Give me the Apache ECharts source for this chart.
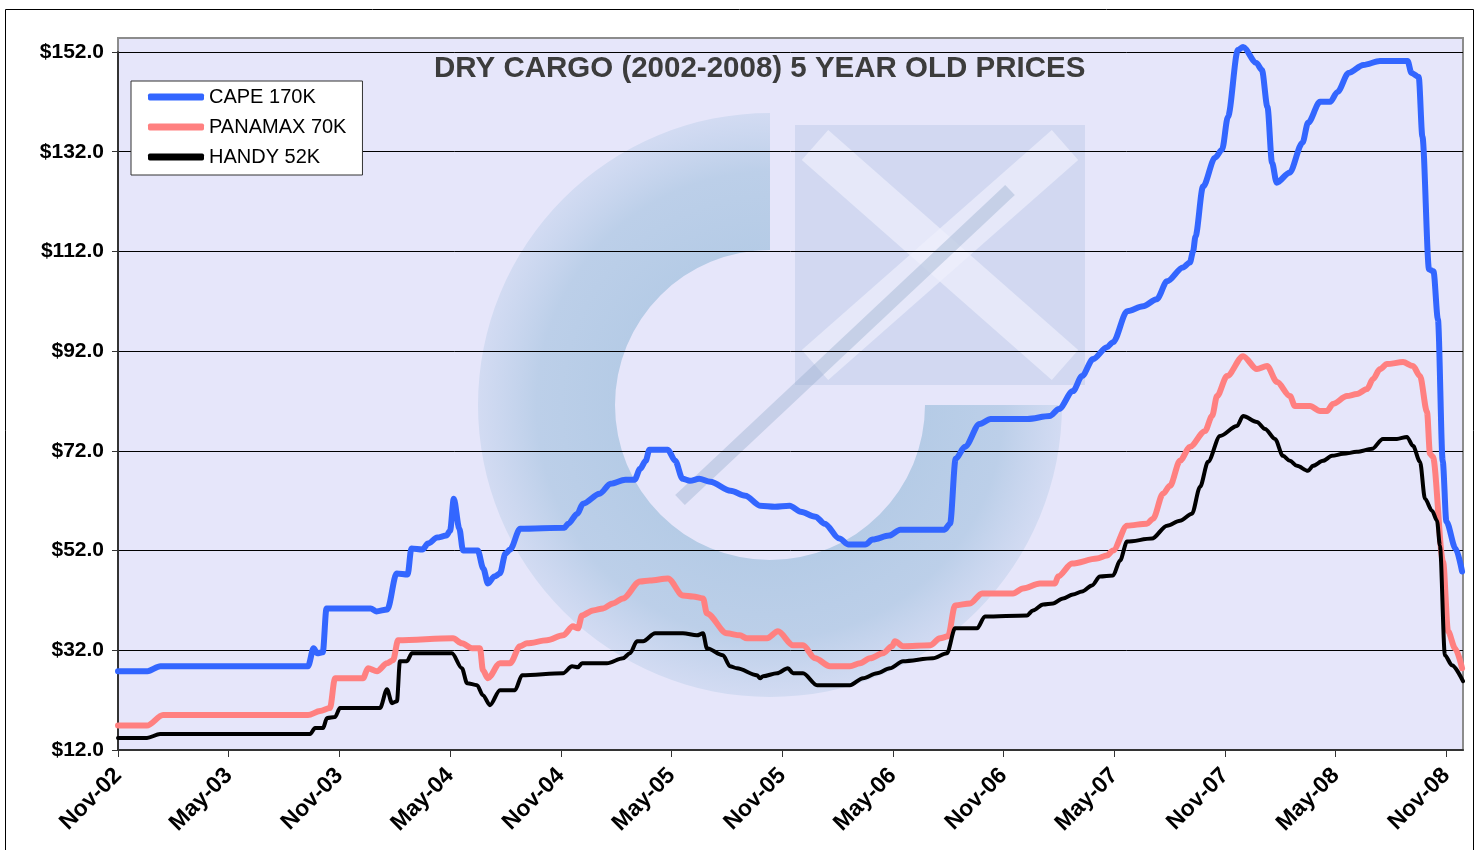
<!DOCTYPE html>
<html>
<head>
<meta charset="utf-8">
<script src="https://cdn.jsdelivr.net/npm/echarts@6/dist/echarts.min.js"></script>
<style>
html, body { margin: 0; padding: 0; background: #fff; }
#main { width: 1475px; height: 850px; }
</style>
</head>
<body>
<div id="main"></div>
<script>
// x = months after Nov-02, y = price ($m)
var xTickLabels = ['Nov-02', 'May-03', 'Nov-03', 'May-04', 'Nov-04', 'May-05', 'Nov-05',
    'May-06', 'Nov-06', 'May-07', 'Nov-07', 'May-08', 'Nov-08'];
var seriesNames = ['CAPE 170K', 'PANAMAX 70K', 'HANDY 52K'];

var cape = [[0,27.8],[1.6,27.8],[2.3,28.8],[10.3,28.8],[10.6,32.4],[10.8,31.4],[11.1,31.6],[11.3,40.4],
    [13.7,40.4],[14.0,39.8],[14.6,40.2],[15.1,47.4],[15.7,47.2],[15.9,52.4],[16.5,52.2],[16.8,53.4],
    [17.3,54.6],[17.8,55],[18.0,56],[18.2,62.4],[18.5,56.4],[18.7,52],[19.5,52],[19.8,48.4],[20.05,45.4],
    [20.4,46.8],[20.7,47.4],[21.0,51.4],[21.25,52.2],[21.8,56.4],[24.2,56.6],[24.4,57.4],[24.9,59.4],
    [25.2,61.4],[26.1,63.4],[26.7,65.4],[27.5,66.2],[28.0,66.2],[28.3,68.4],[28.6,70],[28.8,72.2],
    [29.8,72.2],[30.2,70],[30.6,66.4],[31.0,66],[31.5,66.4],[32.1,65.8],[33.2,64],[34.0,63],[34.8,61],
    [35.6,60.8],[36.4,61],[37.0,59.8],[37.8,58.8],[38.3,57.4],[39.1,54.4],[39.6,53.2],[40.5,53.2],
    [40.9,54.2],[41.8,55],[42.4,56.2],[44.8,56.2],[45.1,57.4],[45.4,70.4],[45.9,72.8],[46.7,77.4],
    [47.3,78.4],[49.3,78.4],[50.5,79],[51.0,80.4],[51.76,84],[52.25,87],[52.85,90.4],[53.6,92.8],
    [53.93,93.8],[54.7,100],[55.56,101],[56.3,102.4],[56.86,106],[57.72,108.8],[58.1,109.8],[58.27,112],
    [58.4,115],[58.81,125],[59.46,130.8],[59.84,132.4],[60.16,139],[60.7,152.4],[60.98,153],[61.7,149.8],
    [62.0,148.4],[62.3,141],[62.55,129.8],[62.8,125.8],[63.5,127.8],[64.2,133.8],[64.5,137.8],[65.15,142],
    [65.7,142],[66.1,144],[66.7,147.8],[67.5,149.4],[68.4,150.2],[69.9,150.2],[70.1,147.8],[70.5,147],
    [70.7,135],[71.06,108.4],[71.3,108],[71.54,98.4],[71.8,70],[72.0,57.8],[72.5,52.4],[72.85,47.8]];

var panamax = [[0,16.9],[1.57,16.9],[2.44,19],[10.3,19],[10.95,19.8],[11.49,20.4],[11.76,26.4],[13.28,26.4],
    [13.55,28.4],[14.04,27.8],[14.58,29.4],[14.91,30],[15.18,34],[18.16,34.4],[18.64,33.4],[19.19,32.4],
    [19.62,32.4],[19.78,28],[20.05,26.4],[20.7,29.4],[21.25,29.4],[21.79,32.8],[22.17,33.4],[23.25,34],
    [24.12,35],[24.66,36.8],[24.93,36.4],[25.15,39],[25.75,40],[26.29,40.4],[26.83,41.4],[27.37,42.4],
    [28.29,45.8],[28.83,46],[29.81,46.4],[30.62,43],[31.17,42.8],[31.71,42.4],[31.92,39.4],[33.0,35.4],
    [33.71,35],[34.09,34.4],[35.18,34.4],[35.77,35.8],[36.59,33],[37.13,33],[37.78,30.4],[38.59,28.8],
    [39.67,28.8],[40.22,29.4],[40.76,30.4],[41.46,31.4],[41.95,32.8],[42.11,33.8],[42.55,32.8],[44.01,33],
    [44.55,34.4],[44.99,34.8],[45.37,41],[46.18,41.4],[46.83,43.4],[48.51,43.4],[49.05,44.4],[49.97,45.4],
    [50.79,45.4],[50.95,46.8],[51.71,49.4],[53.06,50.4],[53.6,51],[53.93,52],[54.69,57],[55.77,57.4],
    [56.1,58.4],[56.64,63.4],[57.02,65],[57.56,70],[58.1,72.8],[58.92,76],[59.3,79],[59.57,83],[60.11,87],
    [60.98,91],[61.73,88.4],[62.28,89],[62.82,85.8],[63.52,83],[63.79,81],[64.61,81],[65.15,80],[65.53,80],
    [65.85,81.4],[66.61,83],[67.15,83.4],[67.7,84.4],[68.02,86.4],[68.4,88.4],[68.78,89.4],[69.65,89.8],
    [70.19,89],[70.57,87],[70.95,79.8],[71.11,71.4],[71.27,70.8],[71.82,49.8],[72.09,35.8],[72.47,32.4],
    [72.85,28.4]];

var handy = [[0,14.4],[1.57,14.4],[2.28,15.2],[10.41,15.2],[10.68,16.4],[11.11,16.4],[11.33,18.4],
    [11.76,18.6],[12.03,20.4],[14.2,20.4],[14.58,24.2],[14.85,21.4],[15.12,21.8],[15.28,29.8],[15.66,29.8],
    [15.93,31.4],[18.1,31.4],[18.64,28.4],[18.92,25.4],[19.46,25],[19.78,23],[20.16,21],[20.7,24],[21.52,24],
    [21.9,27],[24.12,27.4],[24.61,28.8],[24.93,28.6],[25.15,29.4],[26.5,29.4],[27.37,30.4],[27.75,31.4],
    [28.13,33.8],[28.46,33.8],[29.11,35.4],[30.62,35.4],[31.38,35],[31.71,35.4],[31.92,32.4],[32.79,31],
    [33.17,28.8],[33.55,28.4],[34.63,27],[34.8,26.4],[34.96,26.8],[35.72,27.4],[36.31,28.4],[36.59,27.4],
    [37.13,27.4],[37.89,25],[39.67,25],[40.38,26.4],[41.14,27.4],[41.84,28.4],[42.55,29.8],[44.17,30.4],
    [44.93,31.4],[45.37,36.4],[46.56,36.4],[46.99,38.8],[49.27,39],[49.59,40],[50.14,41.2],[50.68,41.4],
    [51.22,42.4],[51.76,43.2],[52.25,43.8],[52.79,45],[53.22,46.8],[53.93,47],[54.31,50],[54.69,53.8],
    [56.04,54.4],[56.86,57],[57.56,58],[58.21,59.4],[58.65,64.8],[59.08,69.8],[59.73,75],[60.65,77],
    [60.98,79],[61.73,77.8],[62.17,76.4],[62.71,74.4],[63.14,71],[63.52,70],[63.9,69],[64.5,68],[64.77,69],
    [65.31,70],[65.8,71],[66.4,71.4],[67.15,71.8],[67.97,72.4],[68.56,74.4],[69.32,74.4],[69.86,74.8],
    [70.19,73],[70.57,69.8],[70.84,62.4],[71.22,60],[71.49,58],[71.65,53],[71.92,31],[72.3,29],[72.9,25.8]];

var colors = ['#3366FF', '#FF8080', '#000000'];
var tickMonths = xTickLabels.map(function (l, i) { return i * 6; });

var myChart = echarts.init(document.getElementById('main'));
var font = 'Liberation Sans, Arial, sans-serif';

var option = {
    animation: false,
    color: colors,
    textStyle: { fontFamily: font },
    title: {
        text: 'DRY CARGO (2002-2008) 5 YEAR OLD PRICES',
        left: 434,
        top: 54,
        padding: 0,
        textStyle: { fontSize: 29.5, fontWeight: 'bold', color: '#3c3c3c', fontFamily: font }
    },
    legend: {
        data: seriesNames,
        orient: 'vertical',
        left: 131,
        top: 81,
        padding: [6, 16, 8, 17],
        itemGap: 10,
        itemWidth: 56,
        itemHeight: 7,
        icon: 'roundRect',
        selectedMode: false,
        backgroundColor: '#fff',
        borderColor: '#333',
        borderWidth: 1,
        borderRadius: 0,
        textStyle: { fontSize: 20, color: '#000', fontFamily: font }
    },
    grid: { left: 118, right: 12, top: 52, bottom: 100 },
    xAxis: {
        type: 'value',
        min: 0,
        max: 72.9,
        interval: 6,
        splitLine: { show: false },
        axisLine: { lineStyle: { color: '#333', width: 2 } },
        axisTick: { length: 7, lineStyle: { color: '#333' }, customValues: tickMonths },
        axisLabel: {
            customValues: tickMonths,
            rotate: 45,
            margin: 22,
            fontSize: 23,
            fontWeight: 'bold',
            color: '#000',
            fontFamily: font,
            formatter: function (v) { return xTickLabels[Math.round(v / 6)] || ''; }
        }
    },
    yAxis: {
        type: 'value',
        min: 12,
        max: 152,
        interval: 20,
        splitLine: { lineStyle: { color: '#000', width: 1 } },
        axisLine: { show: true, lineStyle: { color: '#333', width: 2 } },
        axisTick: { show: true, length: 6, lineStyle: { color: '#333' } },
        axisLabel: {
            margin: 14,
            fontSize: 21,
            fontWeight: 'bold',
            color: '#000',
            fontFamily: font,
            formatter: function (v) { return '$' + v.toFixed(1); }
        }
    },
    graphic: [
        // outer frame
        { type: 'rect', z: -5, shape: { x: 5.5, y: 9.5, width: 1468, height: 860 },
          style: { fill: '#fff', stroke: '#000', lineWidth: 1 } },
        // plot area
        { type: 'rect', z: -4, shape: { x: 118, y: 38, width: 1345, height: 712 },
          style: { fill: '#E6E6FA', stroke: '#8c8c8c', lineWidth: 2 } },
        // faint logo in the background
        { type: 'sector', z: -3, shape: { cx: 770, cy: 405, r: 292, r0: 155, startAngle: 0, endAngle: Math.PI * 1.5, clockwise: true },
          style: { fill: new echarts.graphic.RadialGradient(770, 405, 292, [
              { offset: 0.5, color: 'rgba(120,170,205,0.45)' },
              { offset: 0.8, color: 'rgba(120,170,205,0.38)' },
              { offset: 1, color: 'rgba(140,180,215,0.22)' }], true) } },
        { type: 'rect', z: -3, shape: { x: 795, y: 125, width: 290, height: 260 },
          style: { fill: 'rgba(140,170,210,0.22)' } },
        { type: 'line', z: -3, shape: { x1: 815, y1: 145, x2: 1065, y2: 365 },
          style: { stroke: 'rgba(238,240,252,0.7)', lineWidth: 40 } },
        { type: 'line', z: -3, shape: { x1: 815, y1: 365, x2: 1065, y2: 145 },
          style: { stroke: 'rgba(238,240,252,0.7)', lineWidth: 40 } },
        { type: 'line', z: -3, shape: { x1: 680, y1: 500, x2: 1010, y2: 190 },
          style: { stroke: 'rgba(150,172,205,0.4)', lineWidth: 14 } }
    ],
    series: [
        { name: seriesNames[0], type: 'line', data: cape, showSymbol: false, symbol: 'none', clip: false,
          smooth: 0.3, smoothMonotone: 'x',
          lineStyle: { width: 6, color: colors[0], cap: 'round', join: 'round' } },
        { name: seriesNames[1], type: 'line', data: panamax, showSymbol: false, symbol: 'none', clip: false,
          smooth: 0.3, smoothMonotone: 'x',
          lineStyle: { width: 6, color: colors[1], cap: 'round', join: 'round' } },
        { name: seriesNames[2], type: 'line', data: handy, showSymbol: false, symbol: 'none', clip: false,
          smooth: 0.3, smoothMonotone: 'x',
          lineStyle: { width: 4, color: colors[2], cap: 'round', join: 'round' } }
    ]
};
myChart.setOption(option);
</script>
</body>
</html>
